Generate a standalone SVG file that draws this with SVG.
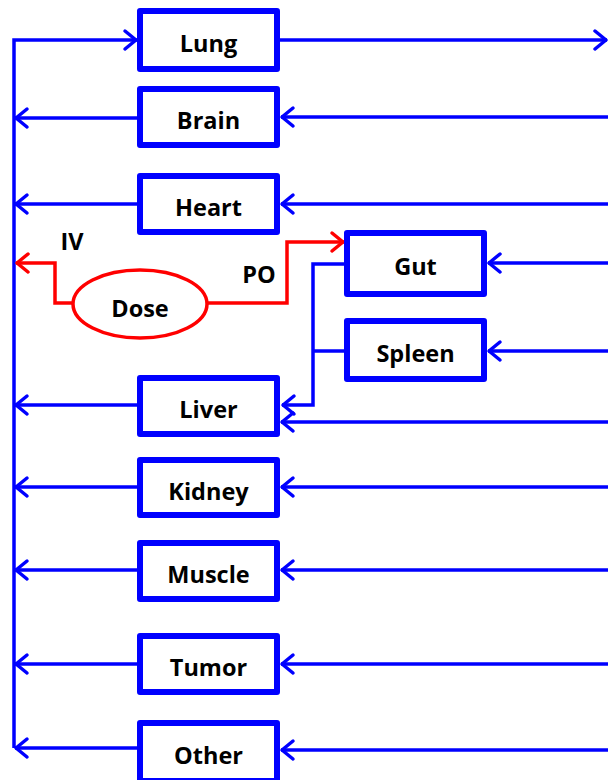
<svg xmlns="http://www.w3.org/2000/svg" width="608" height="780" viewBox="0 0 608 780">
<style>
.box{fill:#fff;stroke:#0000FF;stroke-width:6;stroke-linejoin:round}
.lbl{font-family:"Open Sans","Liberation Sans",sans-serif;font-weight:bold;font-size:23.5px;fill:#000;text-anchor:middle}
.bl{fill:none;stroke:#0000FF;stroke-width:3.5;stroke-linejoin:miter}
.rd{fill:none;stroke:#FF0000;stroke-width:3.5}
</style>
<defs>
<marker id="ab" markerUnits="userSpaceOnUse" viewBox="-14 -12 16 24" markerWidth="16" markerHeight="24" refX="0" refY="0" orient="auto" overflow="visible">
<path d="M-12,-9 L-1,0 L-12,9" fill="none" stroke="#0000FF" stroke-width="3.5" stroke-linecap="round" stroke-linejoin="round"/>
</marker>
<marker id="ar" markerUnits="userSpaceOnUse" viewBox="-14 -12 16 24" markerWidth="16" markerHeight="24" refX="0" refY="0" orient="auto" overflow="visible">
<path d="M-12,-9 L-1,0 L-12,9" fill="none" stroke="#FF0000" stroke-width="3.5" stroke-linecap="round" stroke-linejoin="round"/>
</marker>
</defs>
<g id="connectors">
<path class="bl" d="M14,748 L14,40 L137,40" marker-end="url(#ab)"/>
<path class="bl" d="M280,40 L607,40" marker-end="url(#ab)"/>
<path class="bl" d="M137,118 L15,118" marker-end="url(#ab)"/>
<path class="bl" d="M137,204 L15,204" marker-end="url(#ab)"/>
<path class="bl" d="M137,405 L15,405" marker-end="url(#ab)"/>
<path class="bl" d="M137,487 L15,487" marker-end="url(#ab)"/>
<path class="bl" d="M137,570 L15,570" marker-end="url(#ab)"/>
<path class="bl" d="M137,664 L15,664" marker-end="url(#ab)"/>
<path class="bl" d="M137,748 L15,748" marker-end="url(#ab)"/>
<path class="bl" d="M608,117 L281,117" marker-end="url(#ab)"/>
<path class="bl" d="M608,204 L281,204" marker-end="url(#ab)"/>
<path class="bl" d="M608,263 L488,263" marker-end="url(#ab)"/>
<path class="bl" d="M608,351 L488,351" marker-end="url(#ab)"/>
<path class="bl" d="M608,422 L281,422" marker-end="url(#ab)"/>
<path class="bl" d="M608,487 L281,487" marker-end="url(#ab)"/>
<path class="bl" d="M608,570 L281,570" marker-end="url(#ab)"/>
<path class="bl" d="M608,664 L281,664" marker-end="url(#ab)"/>
<path class="bl" d="M608,750 L281,750" marker-end="url(#ab)"/>
<path class="bl" d="M344,264 L313,264 L313,405 L282,405" marker-end="url(#ab)"/>
<path class="bl" d="M344,351 L313,351"/>
<path class="rd" d="M73,303 L55,303 L55,263 L16,263" marker-end="url(#ar)"/>
<path class="rd" d="M207,303 L287,303 L287,242 L344,242" marker-end="url(#ar)"/>
</g>
<g id="lung"><rect class="box" x="140" y="11" width="137" height="58"/><text class="lbl" x="208.5" y="52">Lung</text></g>
<g id="brain"><rect class="box" x="140" y="89" width="137" height="56"/><text class="lbl" x="208.5" y="129">Brain</text></g>
<g id="heart"><rect class="box" x="140" y="176" width="137" height="56"/><text class="lbl" x="208.5" y="216">Heart</text></g>
<g id="gut"><rect class="box" x="347" y="233" width="137" height="61"/><text class="lbl" x="415.5" y="275">Gut</text></g>
<g id="spleen"><rect class="box" x="347" y="321" width="137" height="58"/><text class="lbl" x="415.5" y="362">Spleen</text></g>
<g id="liver"><rect class="box" x="140" y="378" width="137" height="56"/><text class="lbl" x="208.5" y="418">Liver</text></g>
<g id="kidney"><rect class="box" x="140" y="460" width="137" height="55"/><text class="lbl" x="208.5" y="500">Kidney</text></g>
<g id="muscle"><rect class="box" x="140" y="543" width="137" height="56"/><text class="lbl" x="208.5" y="583">Muscle</text></g>
<g id="tumor"><rect class="box" x="140" y="636" width="137" height="56"/><text class="lbl" x="208.5" y="676">Tumor</text></g>
<g id="other"><rect class="box" x="140" y="723" width="137" height="58"/><text class="lbl" x="208.5" y="764">Other</text></g>
<g id="dose"><ellipse cx="140" cy="304" rx="67" ry="34" fill="#fff" stroke="#FF0000" stroke-width="3.5"/><text class="lbl" x="140" y="317">Dose</text></g>
<g id="labels"><text class="lbl" x="72" y="250">IV</text><text class="lbl" x="259" y="283">PO</text></g>
</svg>
